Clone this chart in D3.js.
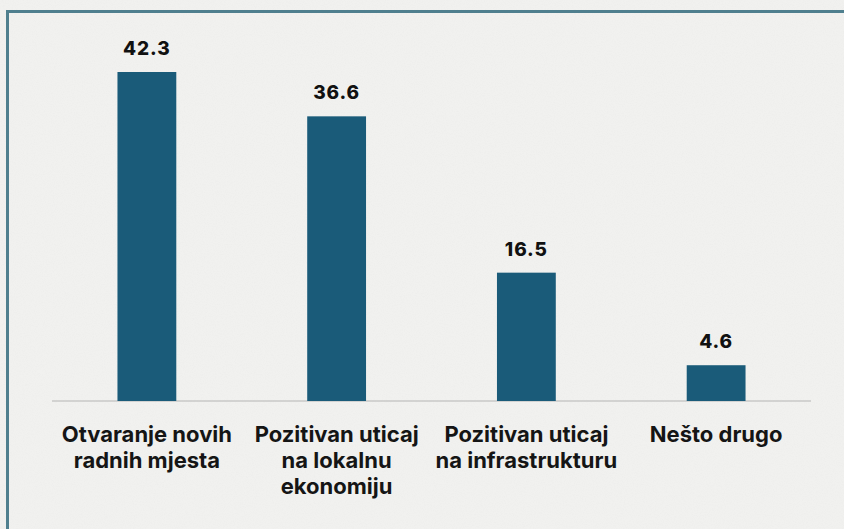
<!DOCTYPE html>
<html>
<head>
<meta charset="utf-8">
<script src="https://cdn.jsdelivr.net/npm/d3@7"></script>
<style>
  html, body { margin: 0; padding: 0; background: #f0f0ee; }
  #chart { width: 844px; height: 529px; }
</style>
</head>
<body>
<div id="chart"></div>
<script>
// Data
const categories = ['Otvaranje novih radnih mjesta', 'Pozitivan uticaj na lokalnu ekonomiju',
    'Pozitivan uticaj na infrastrukturu', 'Nešto drugo'];
const labelLines = [
    ['Otvaranje novih', 'radnih mjesta'],
    ['Pozitivan uticaj', 'na lokalnu', 'ekonomiju'],
    ['Pozitivan uticaj', 'na infrastrukturu'],
    ['Nešto drugo']
];
const values = [42.3, 36.6, 16.5, 4.6];

const width = 844, height = 529;
const baseY = 401;

const svg = d3.select('#chart')
    .append('svg')
    .attr('width', width)
    .attr('height', height);

// paper texture
const defs = svg.append('defs');
const f = defs.append('filter').attr('id', 'paper').attr('x', 0).attr('y', 0).attr('width', '100%').attr('height', '100%');
f.append('feTurbulence').attr('type', 'fractalNoise').attr('baseFrequency', 0.9).attr('numOctaves', 2).attr('seed', 3).attr('result', 'n');
f.append('feColorMatrix').attr('type', 'matrix')
    .attr('values', '0 0 0 0 0.55  0 0 0 0 0.55  0 0 0 0 0.55  0 0 0 -0.9 0.55');

svg.append('rect').attr('width', width).attr('height', height).attr('fill', '#f1f1ef');
svg.append('rect').attr('width', width).attr('height', height).attr('filter', 'url(#paper)').attr('opacity', 0.15);

// frame (runs off right and bottom edges)
svg.append('rect')
    .attr('x', 7.5).attr('y', 11.5)
    .attr('width', 900).attr('height', 600)
    .attr('fill', 'none')
    .attr('stroke', '#4f7f8e')
    .attr('stroke-width', 3);

// Scales
const x = d3.scaleBand()
    .domain(categories)
    .range([52, 811])
    .paddingInner(0.69)
    .paddingOuter(0.345);

const y = d3.scaleLinear()
    .domain([0, 42.3])
    .range([baseY, 72]);

// baseline
svg.append('line')
    .attr('x1', 52).attr('x2', 811)
    .attr('y1', baseY).attr('y2', baseY)
    .attr('stroke', '#c9c9c7')
    .attr('stroke-width', 1.5);

// Bars
svg.selectAll('rect.bar')
    .data(values)
    .enter()
    .append('rect')
    .attr('class', 'bar')
    .attr('x', (d, i) => x(categories[i]))
    .attr('width', x.bandwidth())
    .attr('y', d => y(d))
    .attr('height', d => baseY - y(d))
    .attr('fill', '#1a5b79');

// Value labels
svg.selectAll('text.val')
    .data(values)
    .enter()
    .append('text')
    .attr('class', 'val')
    .attr('x', (d, i) => x(categories[i]) + x.bandwidth() / 2)
    .attr('y', d => y(d) - 17)
    .attr('text-anchor', 'middle')
    .style('font-family', 'Inter, "Liberation Sans", sans-serif')
    .style('font-weight', 800)
    .style('font-size', '19px')
    .style('letter-spacing', '0.9px')
    .style('fill', '#111')
    .text(d => d.toFixed(1));

// Category labels
labelLines.forEach((lines, i) => {
    const t = svg.append('text')
        .attr('text-anchor', 'middle')
        .style('font-family', 'Inter, "Open Sans", sans-serif')
        .style('font-weight', 'bold')
        .style('font-size', '22px')
        .style('fill', '#151515');
    lines.forEach((ln, j) => {
        t.append('tspan')
            .attr('x', x(categories[i]) + x.bandwidth() / 2)
            .attr('y', baseY + 41 + j * 26)
            .text(ln);
    });
});
</script>
</body>
</html>
